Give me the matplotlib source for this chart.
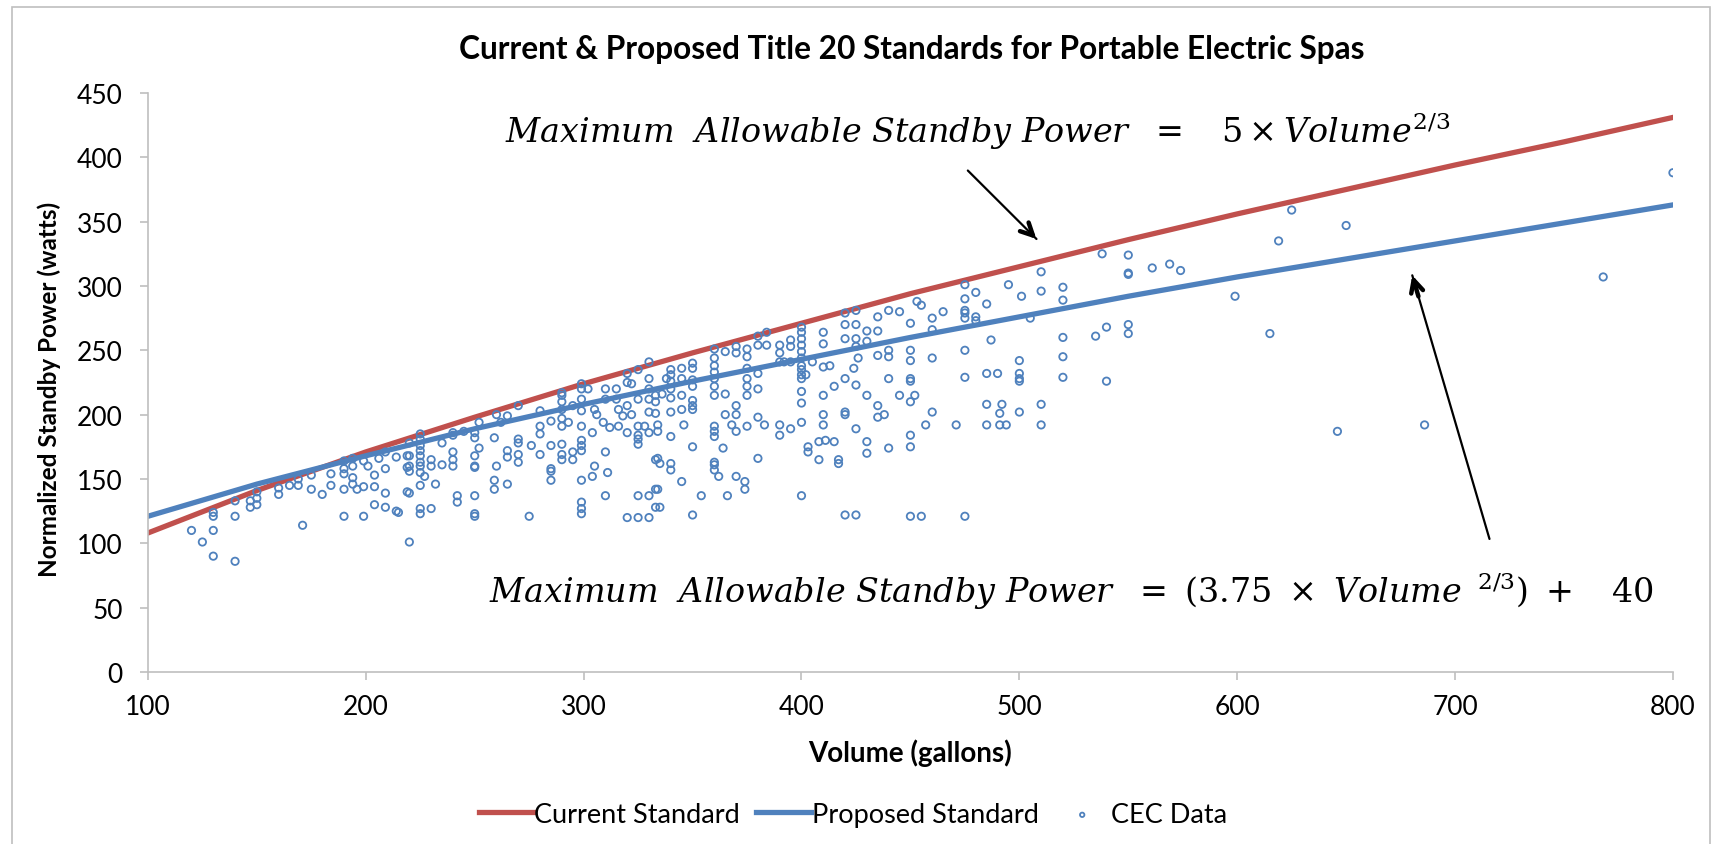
import matplotlib
matplotlib.use('Agg')
import matplotlib.pyplot as plt
from matplotlib.patches import Rectangle

plt.rcParams['font.family'] = ['Lato', 'DejaVu Sans']
plt.rcParams['mathtext.fontset'] = 'custom'
plt.rcParams['mathtext.it'] = 'DejaVu Serif:italic'
plt.rcParams['mathtext.rm'] = 'DejaVu Serif'

# standards, every 50 gallons
line_volume = [100, 150, 200, 250, 300, 350, 400, 450, 500, 550, 600, 650, 700, 750, 800]
current_std = [108, 141, 171, 198, 224, 248, 271, 294, 315, 336, 356, 375, 394, 412, 431]
proposed_std = [121, 146, 168, 189, 208, 226, 243, 260, 276, 292, 307, 321, 335, 349, 363]

# CEC data points (volume in gallons, normalized standby power in watts)
cec_volume = [
    120, 125, 130, 130, 130, 130, 140, 140, 140, 147, 147, 150, 150, 150, 160, 160, 165, 169, 169, 171,
    175, 175, 180, 184, 184, 190, 190, 190, 190, 190, 194, 194, 194, 194, 196, 199, 199, 199, 201, 204,
    204, 204, 206, 209, 209, 209, 209, 214, 214, 219, 219, 219,
    215, 220, 220, 220, 220, 220, 220, 225, 225, 225, 225, 225, 225, 225, 225, 225, 225, 225, 227, 230,
    230, 230, 232, 235, 235, 240, 240, 240, 240, 240, 242, 242, 245, 250, 250, 250, 250, 250, 250, 250,
    250, 252, 252, 259, 259, 259, 260, 260, 262, 265, 265, 265, 265, 270, 270, 270, 270, 270, 275, 276,
    280, 280, 280, 280, 285, 285, 285, 285, 285, 290, 290, 290, 290, 290, 290, 290, 290, 290, 293, 295,
    295, 295, 299, 299, 299, 299, 299, 299, 299, 299, 299, 299, 299, 299, 302, 304, 304, 305, 305, 306,
    309, 310, 310, 310, 310, 311, 312, 315, 315, 316, 316, 318, 320, 320, 320, 320, 320, 322, 322, 325,
    325, 325, 325, 325, 325, 325, 325, 328, 330, 330, 330, 330, 330, 330, 330, 333, 333, 333, 333,
    330, 334, 334, 335, 335, 334, 334, 333, 333, 336, 338, 340, 340, 340, 340, 340, 340, 340, 340, 340,
    345, 345, 345, 345, 345, 346, 350, 350, 350, 350, 350, 350, 350, 350, 350, 354, 360, 360, 360, 360,
    360, 360, 360, 360, 360, 360, 360, 360, 360, 362, 364, 365, 365, 365, 366, 368, 370, 370, 370, 370,
    370, 370, 374, 374, 375, 375, 375, 375, 375, 375, 375, 380, 380, 380, 380, 380, 380, 383, 384, 384,
    390, 390, 390, 390, 390, 392, 395, 395, 395, 395, 400, 400, 400, 400, 400, 400, 400, 400, 400, 400,
    400, 400, 400, 400, 402, 403, 403, 405, 408, 408, 410, 410, 410, 410, 410, 410, 411, 413, 415, 415,
    417, 417, 420, 420, 420, 420, 420, 420, 420, 424, 425, 425, 425, 425, 425, 425, 425, 426, 430, 430,
    430, 430, 430, 435, 435, 435, 435, 435, 438, 440, 440, 440, 440, 440, 445, 445,
    450, 455, 450, 450, 450, 450, 450, 450, 450, 450, 452, 453, 455, 457, 460, 460, 460, 460, 465, 471,
    475, 475, 475, 475, 475, 475, 475, 475, 480, 480, 480, 485, 485, 485, 485, 487, 490, 491, 491, 492,
    494, 495, 500, 500, 500, 500, 500, 501, 505, 510, 510, 510, 510, 520, 520, 520, 520, 520, 535, 538,
    540, 540, 550, 550, 550, 550, 550,
    561, 569, 574, 599, 615, 619, 625, 650, 646, 686, 768, 800,
]
cec_power = [
    110, 101, 90, 110, 121, 124, 86, 121, 133, 128, 133, 130, 135, 140, 138, 143, 145, 145, 150, 114,
    153, 142, 138, 145, 154, 121, 142, 154, 158, 164, 146, 151, 160, 166, 142, 121, 144, 164, 160, 130,
    144, 153, 166, 128, 139, 158, 171, 125, 167, 140, 159, 168,
    124, 101, 139, 168, 160, 156, 178, 123, 127, 145, 155, 160, 163, 168, 172, 176, 181, 185, 152, 127,
    160, 165, 146, 178, 161, 171, 165, 160, 184, 186, 137, 132, 187, 123, 121, 137, 160, 159, 168, 182,
    186, 174, 194, 149, 142, 182, 160, 200, 194, 146, 167, 172, 199, 163, 169, 181, 178, 207, 121, 176,
    169, 185, 191, 203, 149, 156, 158, 176, 195, 169, 165, 177, 191, 197, 204, 210, 215, 217, 194, 171,
    165, 207, 123, 127, 132, 149, 172, 176, 180, 191, 203, 212, 220, 224, 220, 152, 186, 160, 204, 200,
    194, 171, 137, 212, 220, 155, 190, 220, 212, 191, 204, 199, 120, 225, 232, 207, 186, 224, 200, 120,
    137, 177, 181, 184, 191, 212, 235, 191, 120, 137, 186, 202, 212, 228, 241, 142, 128, 165, 215,
    220, 142, 166, 162, 128, 187, 192, 201, 210, 216, 228, 157, 162, 183, 202, 213, 220, 226, 231, 235,
    148, 204, 215, 228, 236, 192, 122, 175, 204, 207, 211, 222, 227, 236, 240, 137, 161, 157, 163, 183,
    187, 191, 215, 222, 228, 233, 238, 244, 251, 152, 174, 200, 216, 249, 137, 192, 200, 207, 187, 152,
    248, 253, 142, 148, 191, 215, 222, 228, 236, 251, 245, 166, 198, 220, 232, 254, 261, 192, 254, 264,
    192, 184, 248, 254, 241, 241, 258, 253, 189, 241, 137, 194, 209, 218, 228, 231, 235, 238, 244, 249,
    254, 259, 264, 268, 231, 171, 175, 241, 165, 179, 192, 200, 215, 237, 255, 264, 180, 238, 222, 179,
    165, 162, 202, 200, 228, 259, 270, 279, 122, 236, 122, 189, 223, 253, 259, 270, 281, 244, 215, 179,
    170, 257, 265, 207, 198, 246, 265, 276, 200, 174, 228, 250, 245, 281, 280, 215,
    121, 121, 175, 184, 210, 226, 228, 242, 250, 271, 215, 288, 285, 192, 202, 244, 266, 275, 280, 192,
    121, 229, 250, 275, 279, 281, 290, 301, 273, 276, 295, 208, 192, 232, 286, 258, 232, 201, 192, 208,
    192, 301, 202, 226, 228, 232, 242, 292, 275, 311, 296, 208, 192, 229, 245, 260, 289, 299, 261, 325,
    268, 226, 309, 310, 263, 270, 324,
    314, 317, 312, 292, 263, 335, 359, 347, 187, 192, 307, 388,
]

red = '#C0504D'
blue = '#4F81BD'
grey = '#BFBFBF'

fig = plt.figure(figsize=(17.16, 8.45), dpi=100)
ax = fig.add_axes([0.0862, 0.2036, 0.8887, 0.6852])

ax.plot(line_volume, current_std, color=red, lw=3.8, label='Current Standard', zorder=2)
ax.plot(line_volume, proposed_std, color=blue, lw=3.8, label='Proposed Standard', zorder=2)
ax.scatter(cec_volume, cec_power, s=28, facecolors='none', edgecolors=blue,
           linewidths=1.3, label='CEC Data', zorder=3)

ax.set_xlim(100, 800)
ax.set_ylim(0, 450)
ax.set_xticks(range(100, 801, 100))
ax.set_yticks(range(0, 451, 50))
for s in ['top', 'right']:
    ax.spines[s].set_visible(False)
for s in ['left', 'bottom']:
    ax.spines[s].set_color(grey)
    ax.spines[s].set_linewidth(1.2)
ax.tick_params(axis='both', colors=grey, labelcolor='black', labelsize=19,
               length=6, width=1.2, direction='out')
ax.tick_params(axis='y', pad=12)
ax.tick_params(axis='x', pad=10)

ax.set_xlabel('Volume (gallons)', fontsize=20, fontweight='bold', labelpad=14)
ax.set_ylabel('Normalized Standby Power (watts)', fontsize=17.5, fontweight='bold')
ax.yaxis.set_label_coords(-0.057, 0.49)

fig.text(0.5315, 0.942, 'Current & Proposed Title 20 Standards for Portable Electric Spas',
         ha='center', va='center', fontsize=22.8, fontweight='bold')

fig.text(0.294, 0.845,
         r'$Maximum\ \ Allowable\ Standby\ Power\ \ =\ \ \ 5\times Volume^{2/3}$',
         ha='left', va='center', fontsize=24)
fig.text(0.285, 0.30,
         r'$Maximum\ \ Allowable\ Standby\ Power\ \ =\ (3.75\ \times\ Volume^{\ \ 2/3})\ +\ \ \ 40$',
         ha='left', va='center', fontsize=24)

# arrows: thin shaft plus a bolder head
arrows = [((0.564, 0.797), (0.604, 0.716)), ((0.868, 0.361), (0.823, 0.673))]
for (x0, y0), (x1, y1) in arrows:
    ax.annotate('', xy=(x1, y1), xycoords='figure fraction',
                xytext=(x0, y0), textcoords='figure fraction',
                arrowprops=dict(arrowstyle='-', lw=1.6, color='black', shrinkA=0, shrinkB=0))
    ax.annotate('', xy=(x1, y1), xycoords='figure fraction',
                xytext=(x1 - (x1 - x0) * 0.08, y1 - (y1 - y0) * 0.08),
                textcoords='figure fraction',
                arrowprops=dict(arrowstyle='->', lw=3.2, color='black', mutation_scale=22,
                                shrinkA=0, shrinkB=0))

ax.legend(loc='center', bbox_to_anchor=(0.497, 0.035), bbox_transform=fig.transFigure,
          ncol=3, frameon=False, fontsize=19.5, handlelength=2.0, handletextpad=0.05,
          columnspacing=0.6, markerscale=0.6)

fig.add_artist(Rectangle((12 / 1716, -0.01), 1698 / 1716, 1.0 - 8 / 845 + 0.01,
                         transform=fig.transFigure, fill=False, edgecolor=grey, lw=1.2))

fig.savefig('out.png', dpi=100)
